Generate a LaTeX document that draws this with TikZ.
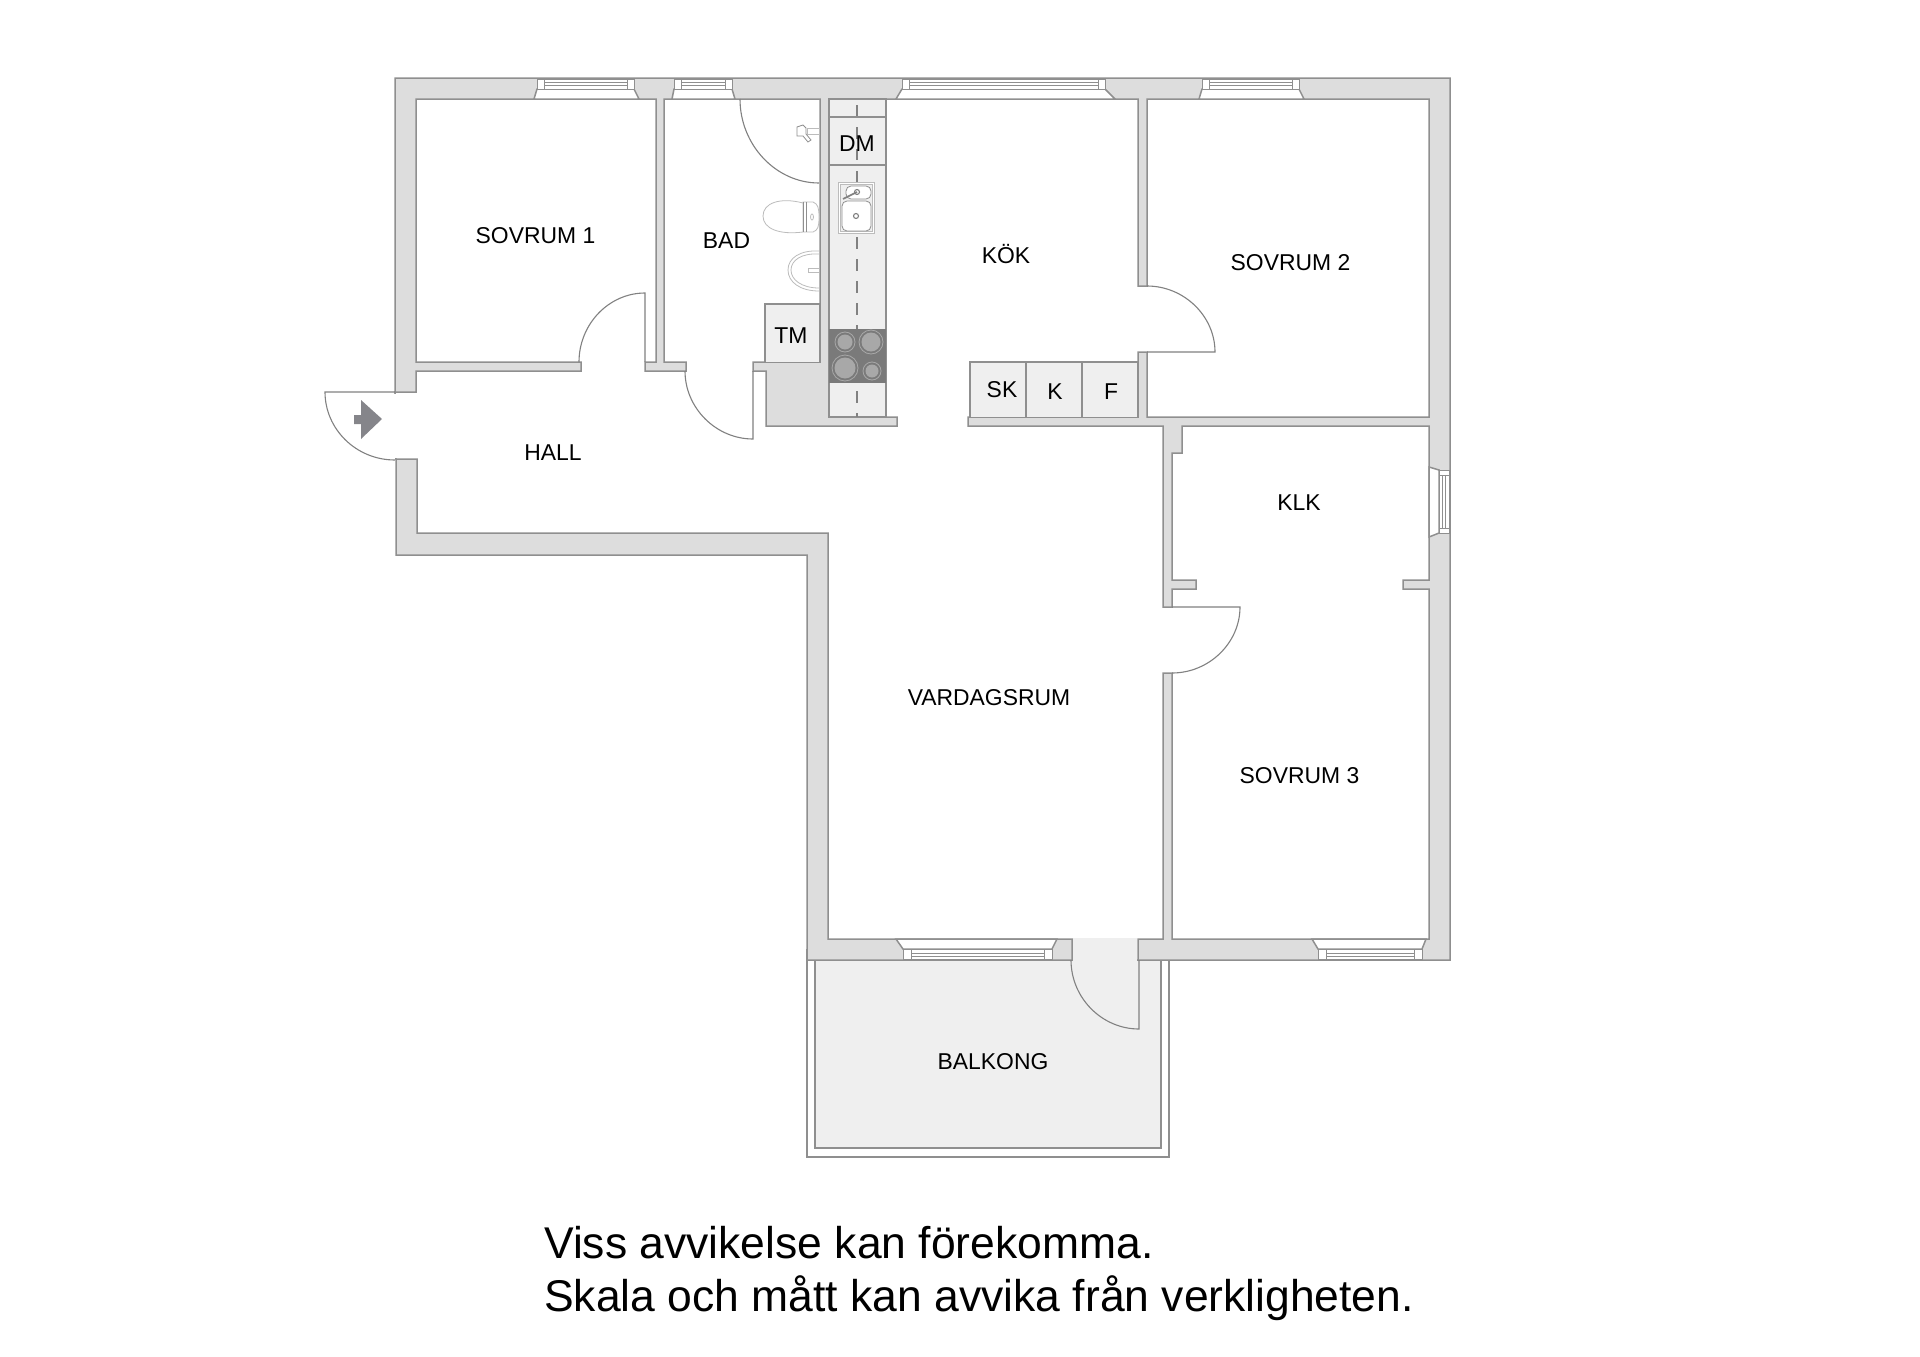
\documentclass[tikz,border=0pt]{standalone}
\usepackage{fontspec}
\setmainfont{Liberation Sans}
\definecolor{linegray}{HTML}{8F8F8F}
\definecolor{wallgray}{HTML}{DDDDDD}
\definecolor{lightgray}{HTML}{EFEFEF}
\definecolor{hobgray}{HTML}{7A7A7A}
\definecolor{burnergray}{HTML}{A8A8A8}
\definecolor{arrowgray}{HTML}{85858A}
\tikzset{
    wall/.style={draw=linegray,line width=1.5pt,line join=miter},
    fixture/.style={draw=linegray!90!black,line width=1.1pt},
    pane/.style={draw=linegray,line width=0.8pt},
    thin fixture/.style={draw=linegray!60,line width=0.8pt},
    room/.style={anchor=base,inner sep=0pt,text=black,font=\fontsize{22.9}{26}\selectfont},
    note/.style={anchor=base west,inner sep=0pt,text=black,font=\fontsize{44.45}{50}\selectfont},
}
\begin{document}
\begin{tikzpicture}[x=1pt,y=-1pt]
    \useasboundingbox (0,0) rectangle (1920,1357);

    % balkong
    \draw[wall,fill=white] (807,950) rectangle (1169,1157);
    \draw[wall,fill=lightgray] (815,950) rectangle (1161,1148);

    % walls and free floor
    \draw[wall,fill=wallgray] (395,78)--(1450,78)--(1450,960)--(807,960)--(807,555)--(396,555)--(396,459)--(395,392)--cycle;
    \draw[wall,fill=white] (416,99)--(656,99)--(656,362)--(645,362)--(645,371)--(686,371)--(686,362)--(664,362)--(664,99)
        --(820,99)--(820,362)--(753,362)--(753,371)--(766,371)--(766,426)--(897,426)--(897,417)--(829,417)--(829,99)
        --(1138,99)--(1138,286)--(1147,286)--(1147,99)--(1429,99)--(1429,417)--(1147,417)--(1147,352)--(1138,352)--(1138,417)
        --(968,417)--(968,426)--(1163,426)--(1163,607)--(1172,607)--(1172,589)--(1196,589)--(1196,580)--(1172,580)--(1172,453)--(1182,453)--(1182,426)
        --(1429,426)--(1429,580)--(1403,580)--(1403,589)--(1429,589)--(1429,939)--(1172,939)--(1172,673)--(1163,673)--(1163,939)
        --(1138,939)--(1138,960)--(1072,960)--(1072,939)--(828,939)--(828,533)--(417,533)--(417,459)--(396,459)--(395,392)
        --(416,392)--(416,371)--(581,371)--(581,362)--(416,362)--cycle;
    \fill[white] (393,393.5) rectangle (398,457.5);
    \fill[lightgray] (1073,938) rectangle (1137,962);

    % top windows
    \foreach \fa/\xa/\xb/\fb in {534/537/634/639, 672/674/732/735, 896/902/1105/1115, 1199/1202/1299/1304} {
        \draw[wall,fill=white] (\fa,99)--(\xa,89)--(\xb,89)--(\fb,99)--cycle;
        \draw[pane,fill=white] (\xa,79)rectangle(\xb,89);
        \draw[pane] (\xa+7,79)--(\xa+7,89);
        \draw[pane] (\xb-7,79)--(\xb-7,89);
        \draw[pane] (\xa+7,82)--(\xb-7,82);
        \draw[pane] (\xa+7,85)--(\xb-7,85);
    }
    % bottom windows
    \foreach \fa/\xa/\xb/\fb in {896/903/1052/1057, 1312/1318/1422/1426} {
        \draw[wall,fill=white] (\fa,939)--(\xa,949)--(\xb,949)--(\fb,939)--cycle;
        \draw[pane,fill=white] (\xa,949)rectangle(\xb,959);
        \draw[pane] (\xa+8,949)--(\xa+8,959);
        \draw[pane] (\xb-8,949)--(\xb-8,959);
        \draw[pane] (\xa+8,953)--(\xb-8,953);
        \draw[pane] (\xa+8,956)--(\xb-8,956);
    }
    % side window
    \draw[wall,fill=white] (1429,467)--(1439,470)--(1439,533)--(1429,537)--cycle;
    \draw[pane,fill=white] (1439,470)rectangle(1449,533);
    \draw[pane] (1439,475)--(1449,475);
    \draw[pane] (1439,528)--(1449,528);
    \draw[pane] (1442,475)--(1442,528);
    \draw[pane] (1445,475)--(1445,528);

    % doors
    \draw[fixture] (645,362)--(645,293) .. controls (609,293) and (579,324) .. (579,362);
    \draw[fixture] (685,371) .. controls (685,408) and (716,439) .. (753,439)--(753,371);
    \draw[fixture] (395,392)--(325,392) .. controls (325,429) and (356,460) .. (395,460);
    \draw[fixture] (1147,286) .. controls (1184,286) and (1215,316) .. (1215,352)--(1147,352);
    \draw[fixture] (1172,607)--(1240,607) .. controls (1240,643) and (1209,673) .. (1172,673);
    \draw[fixture] (1071,960) .. controls (1071,998) and (1102,1029) .. (1139,1029)--(1139,960);
    \draw[fixture] (740,99) .. controls (740,145) and (776,183) .. (819,183);

    % entrance
    \fill[arrowgray] (354,415)--(361,415)--(361,400)--(382,419)--(361,439)--(361,424)--(354,424)--cycle;

    % kitchen counter
    \draw[wall,fill=lightgray] (829,99) rectangle (886,417);
    \draw[fixture,dash pattern=on 12pt off 10pt] (857,105)--(857,417);
    \draw[wall] (829,117)--(886,117);
    \draw[wall,fill=lightgray] (829,117) rectangle (886,165);
    \draw[fixture,dash pattern=on 12pt off 10pt] (857,127)--(857,160);

    % sink
    \draw[thin fixture,fill=white] (838,182) rectangle (874,233);
    \draw[thin fixture,fill=lightgray] (840,184) rectangle (872,231);
    \draw[pane,fill=white,rounded corners=5pt] (846,186) rectangle (871,199);
    \draw[pane,fill=white,rounded corners=5pt] (842,201) rectangle (871,231);
    \draw[fixture] (856,216) circle [radius=2.5];
    \draw[fixture] (857,192) circle [radius=2.5];
    \draw[fixture,line width=1.6pt] (843,199)--(857,192);

    % hob
    \fill[hobgray] (829,329) rectangle (886,383);
    \foreach \bx/\by/\br in {845/342/10, 871/342/12, 845/368/13, 872/371/9} {
        \draw[draw=burnergray,line width=0.8pt] (\bx,\by) circle [radius=\br];
        \fill[burnergray] (\bx,\by) circle [radius=\br-2.5];
    }

    % bath fixtures
    \draw[wall,fill=lightgray] (765,362)--(765,304)--(820,304)--(820,362);
    \draw[thin fixture,fill=white] (807,128) rectangle (819,134);
    \draw[pane,fill=white] (797,127)--(803,125)--(806,128)--(806,134)--(811,140)--(808,142)--(803,136)--(797,136)--cycle;
    \draw[thin fixture] (803,203) .. controls (780,197) and (763,203) .. (763,216) .. controls (763,229) and (780,235) .. (803,232);
    \draw[thin fixture,fill=white] (803,202)--(813,202) .. controls (818,204) and (819,208) .. (819,217) .. controls (819,227) and (818,230) .. (813,232)--(803,232)--cycle;
    \draw[pane] (803,202)--(803,232);
    \draw[pane] (806,202)--(806,232);
    \draw[thin fixture] (812,217) ellipse [x radius=1.5,y radius=3];
    \draw[thin fixture] (819,251) .. controls (800,250) and (788,258) .. (788,270) .. controls (788,282) and (800,291) .. (819,291);
    \draw[thin fixture] (819,254) .. controls (802,253) and (791,260) .. (791,270) .. controls (791,280) and (802,288) .. (819,288);
    \draw[thin fixture] (819,268)--(808,268)--(808,272)--(819,272);

    % closets
    \draw[wall,fill=lightgray] (970,417)--(970,362)--(1138,362)--(1138,417);
    \draw[wall] (1026,362)--(1026,417);
    \draw[wall] (1082,362)--(1082,417);

    % labels
    \node[room] (sovrum1) at (535.5,243) {SOVRUM 1};
    \node[room] (bad) at (726.5,248) {BAD};
    \node[room] (dm) at (857,151) {DM};
    \node[room] (tm) at (791,343) {TM};
    \node[room] (kok) at (1006,263) {KÖK};
    \node[room] (sk) at (1002,397) {SK};
    \node[room] (k) at (1055,399) {K};
    \node[room] (f) at (1111,399) {F};
    \node[room] (sovrum2) at (1290.5,270) {SOVRUM 2};
    \node[room] (hall) at (553,460) {HALL};
    \node[room] (klk) at (1299,510) {KLK};
    \node[room] (vardagsrum) at (989,705) {VARDAGSRUM};
    \node[room] (sovrum3) at (1299.5,783) {SOVRUM 3};
    \node[room] (balkong) at (993,1069) {BALKONG};
    \node[note] (note1) at (544,1258) {Viss avvikelse kan förekomma.};
    \node[note] (note2) at (544,1311) {Skala och mått kan avvika från verkligheten.};
\end{tikzpicture}
\end{document}
